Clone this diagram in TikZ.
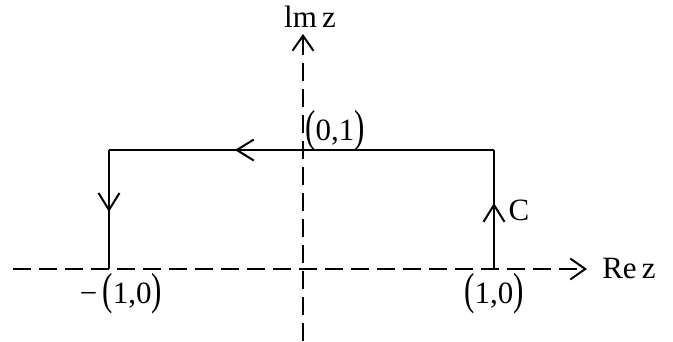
\documentclass[tikz,border=0pt]{standalone}
\usepackage{fontspec}
\setmainfont{Liberation Serif}
\usepackage{graphicx}
\usepackage{tikz}
\usetikzlibrary{arrows.meta,decorations.markings}

\newcommand{\lpar}{\raisebox{-1.5pt}{\scalebox{1}[1.45]{(}}}
\newcommand{\rpar}{\raisebox{-1.5pt}{\scalebox{1}[1.45]{)}}}

\begin{document}
\begin{tikzpicture}[
  x=1pt,y=-1pt,
  axis/.style={line width=2pt,dash pattern=on 18pt off 8pt,-{Straight Barb[length=15pt,width=21pt,line width=2pt]}},
  path/.style={line width=2pt},
  mid/.style={postaction={decorate},decoration={markings,mark=at position #1 with {\arrow{Straight Barb[length=17pt,width=21pt,line width=2pt]}}}},
  lbl/.style={inner sep=0pt,font=\fontsize{31}{35}\selectfont}
]
\useasboundingbox (0,0) rectangle (673,341);
% axes
\coordinate (xs) at (13,269);
\coordinate (xe) at (587,269);
\coordinate (ys) at (303,341);
\coordinate (ye) at (303,34);
\draw[axis] (xs) -- (xe);
\draw[axis] (ys) -- (ye);
\node[lbl] (re) at (629,268) {Re\,z};
\node[lbl] (im) at (310,17) {lm\,z};
% contour C
\coordinate (ll) at (109,269);
\coordinate (ul) at (109,150);
\coordinate (ur) at (494,150);
\coordinate (lr) at (494,269);
\draw[path,mid=0.555] (lr) -- (ur);
\draw[path,mid=0.673] (ur) -- (ul);
\draw[path,mid=0.52] (ul) -- (ll);
% labels
\node[lbl] (c) at (519,210) {C};
\node[lbl] (top) at (335,131) {\lpar0,1\rpar};
\node[lbl] (left) at (121,294) {−\,\lpar1,0\rpar};
\node[lbl] (right) at (494,294) {\lpar1,0\rpar};
\end{tikzpicture}
\end{document}
